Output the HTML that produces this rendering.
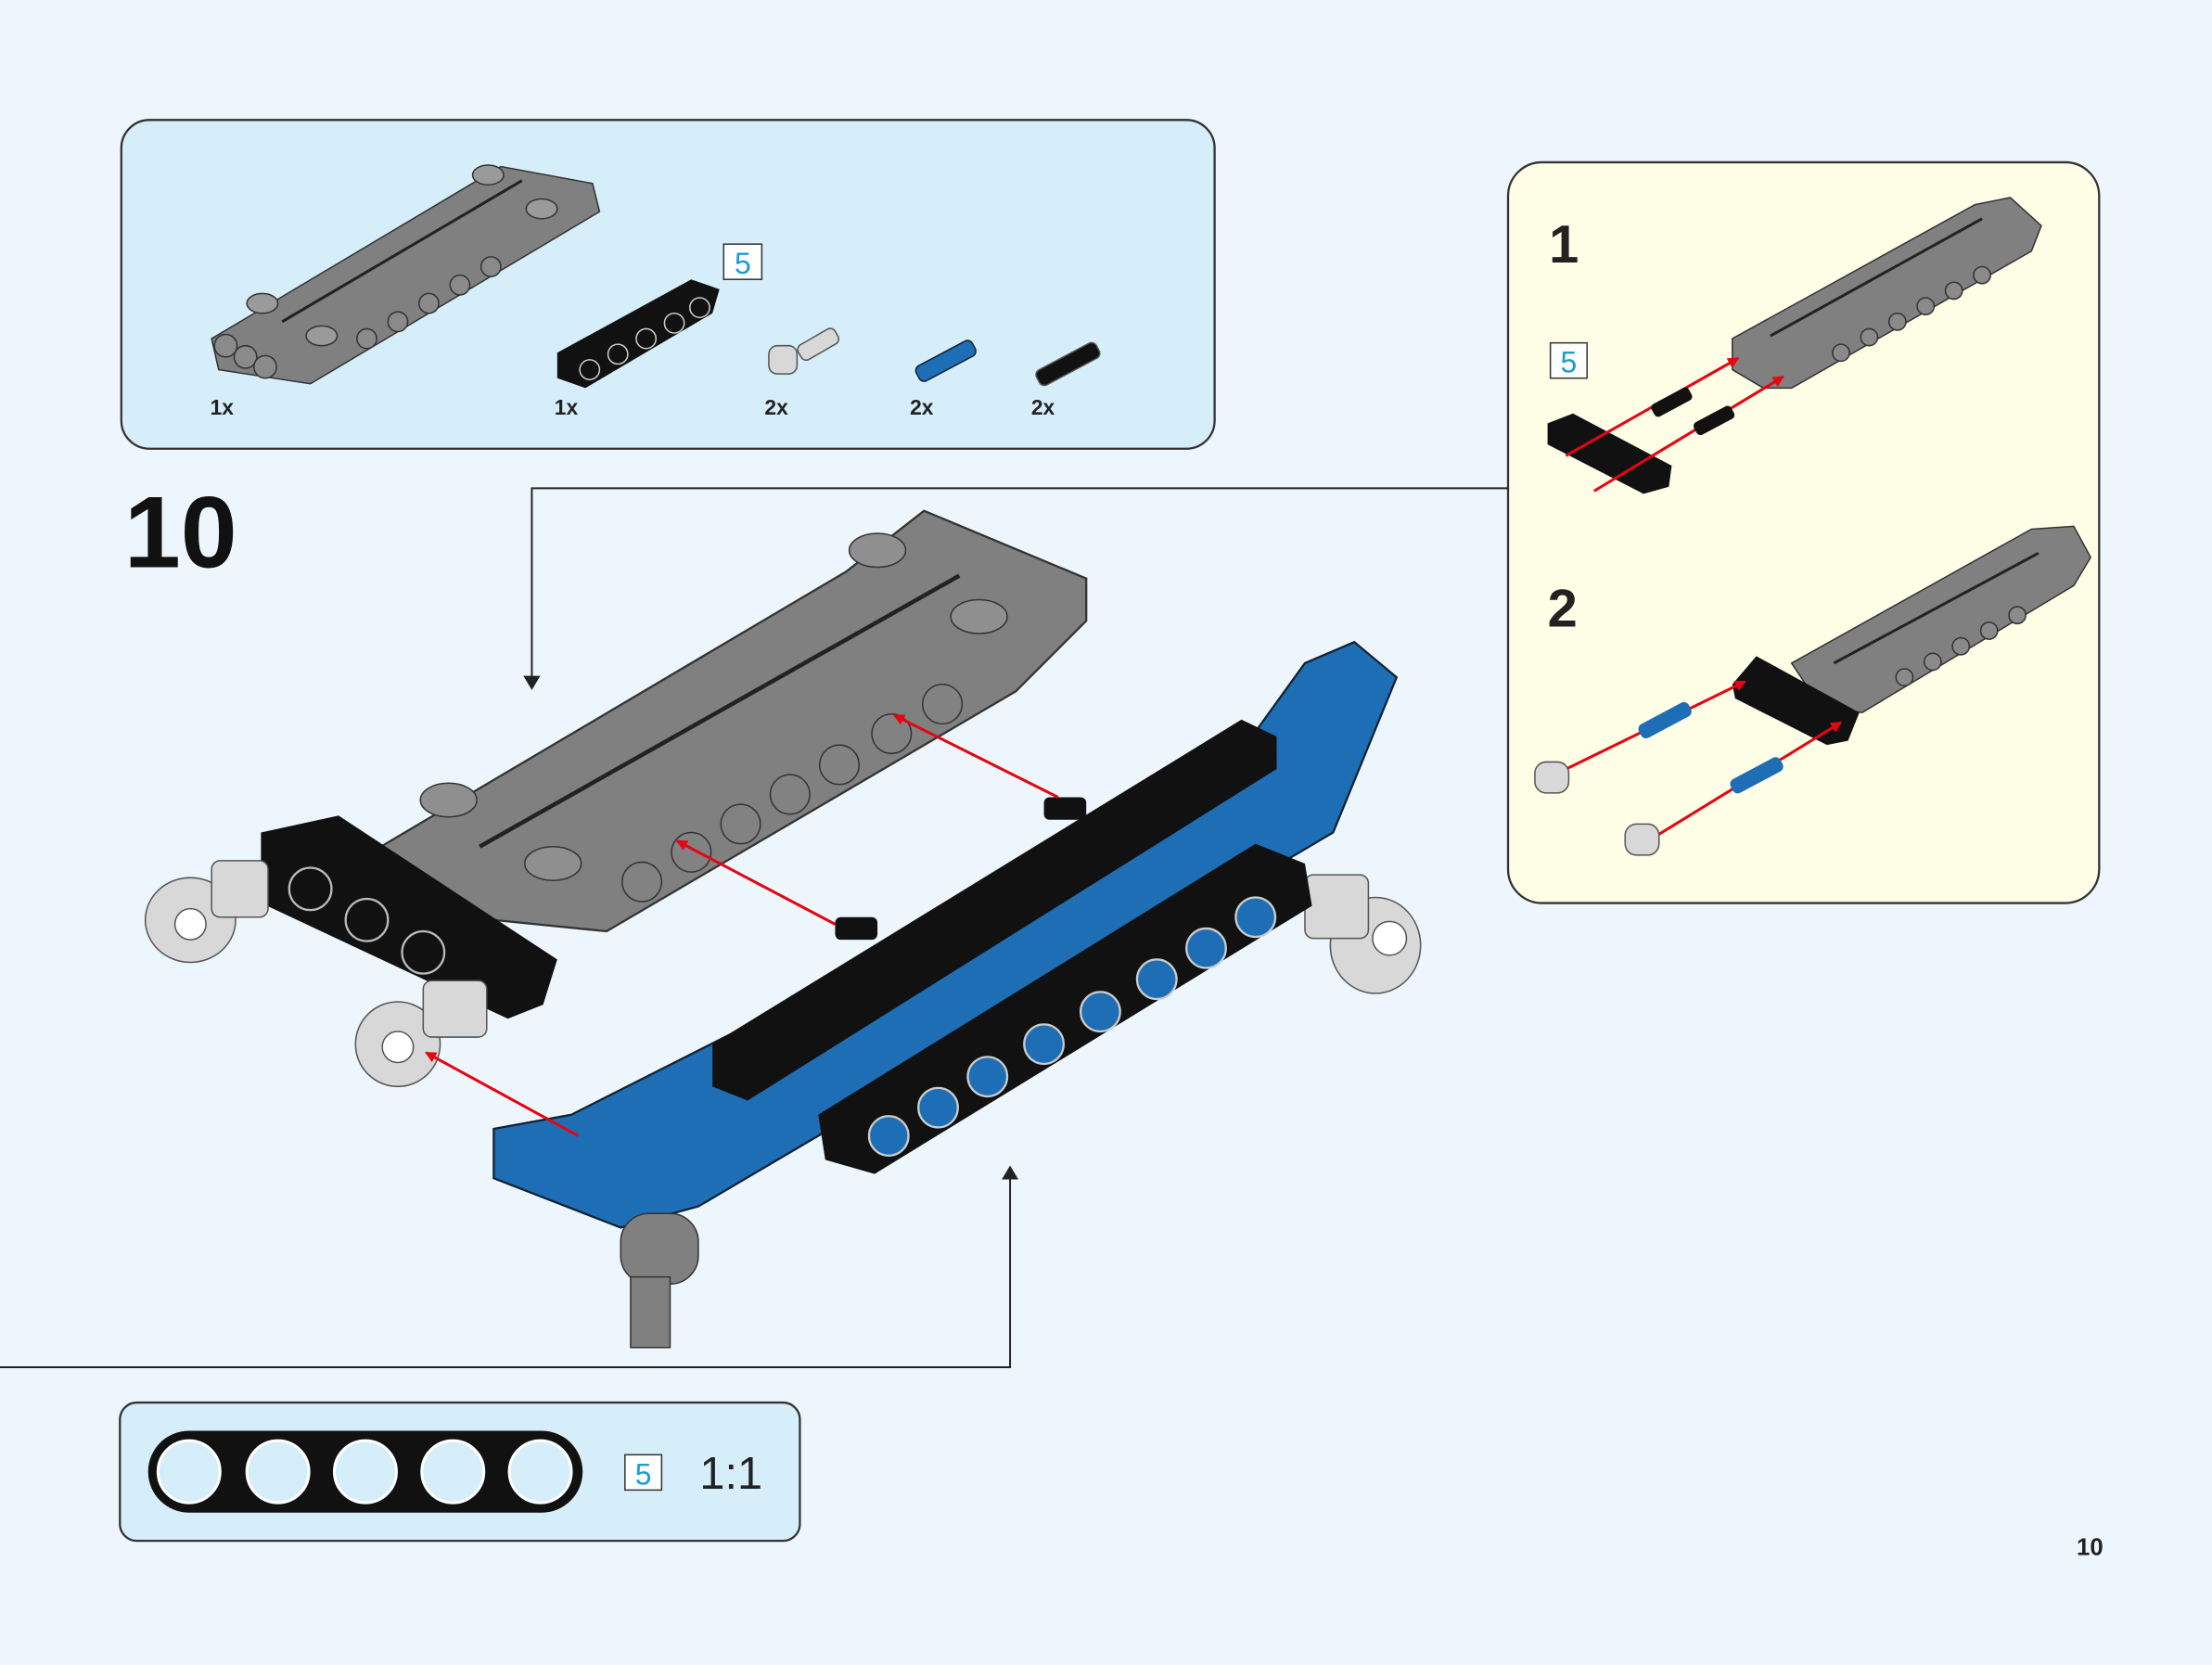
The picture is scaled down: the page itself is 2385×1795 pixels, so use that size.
<!DOCTYPE html>
<html><head><meta charset="utf-8"><style>html,body{margin:0;padding:0;background:#eef6fd}svg{display:block}</style></head><body>
<svg width="2385" height="1795" viewBox="0 0 1568 1180" preserveAspectRatio="none" xmlns="http://www.w3.org/2000/svg" font-family="Liberation Sans, sans-serif">
<defs>
<marker id="ar" markerWidth="8" markerHeight="8" refX="7" refY="4" orient="auto" markerUnits="userSpaceOnUse"><path d="M0,0 L8,4 L0,8z" fill="#e30613"/></marker>
<marker id="ak" markerWidth="10" markerHeight="18" refX="9" refY="9" orient="auto" markerUnits="userSpaceOnUse"><path d="M0,3 L10,9 L0,15z" fill="#222"/></marker>
</defs>
<rect width="1568" height="1180" fill="#eef6fd"/>
<!-- parts box -->
<rect x="86" y="85" width="775" height="233" rx="20" fill="#d5eefa" stroke="#333" stroke-width="1.5"/>
<polygon points="150,240 355,118 420,130 425,150 220,272 155,262" fill="#808080" stroke="#333"/>
<line x1="200" y1="228" x2="370" y2="128" stroke="#222" stroke-width="2"/>
<g fill="#9a9a9a" stroke="#333"><ellipse cx="186" cy="215" rx="11" ry="7"/><ellipse cx="228" cy="238" rx="11" ry="7"/><ellipse cx="346" cy="124" rx="11" ry="7"/><ellipse cx="384" cy="148" rx="11" ry="7"/></g>
<g fill="#8a8a8a" stroke="#333"><circle cx="160" cy="245" r="8"/><circle cx="174" cy="253" r="8"/><circle cx="188" cy="260" r="8"/><circle cx="260" cy="240" r="7"/><circle cx="282" cy="228" r="7"/><circle cx="304" cy="215" r="7"/><circle cx="326" cy="202" r="7"/><circle cx="348" cy="189" r="7"/></g>
<polygon points="395,250 490,198 510,205 505,222 415,275 395,268" fill="#111"/>
<g fill="none" stroke="#ccc"><circle cx="418" cy="262" r="7"/><circle cx="438" cy="251" r="7"/><circle cx="458" cy="240" r="7"/><circle cx="478" cy="229" r="7"/><circle cx="496" cy="218" r="7"/></g>
<rect x="513" y="173" width="27" height="25" fill="#fff" stroke="#333"/><text x="526.5" y="194" font-size="21" fill="#1a9ad9" text-anchor="middle">5</text>
<g fill="#d8d8d8" stroke="#555"><rect x="545" y="245" width="20" height="20" rx="6"/><rect x="565" y="238" width="30" height="12" rx="4" transform="rotate(-30 580 244)"/></g>
<rect x="648" y="250" width="45" height="12" rx="4" fill="#1e6eb5" stroke="#123" transform="rotate(-28 670 256)"/>
<rect x="733" y="252" width="48" height="12" rx="4" fill="#111" stroke="#555" transform="rotate(-28 757 258)"/>
<g font-size="15" font-weight="bold" fill="#222"><text x="149" y="294">1x</text><text x="393" y="294">1x</text><text x="542" y="294">2x</text><text x="645" y="294">2x</text><text x="731" y="294">2x</text></g>
<text x="88" y="402" font-size="72" font-weight="bold" fill="#111">10</text>
<!-- callout -->
<rect x="1069" y="115" width="419" height="525" rx="24" fill="#fefde6" stroke="#333" stroke-width="1.5"/>
<polyline points="1069,346 377,346 377,488" fill="none" stroke="#222" stroke-width="1.3" marker-end="url(#ak)"/>
<polyline points="0,969 716,969 716,827" fill="none" stroke="#222" stroke-width="1.3" marker-end="url(#ak)"/>
<text x="1098" y="186" font-size="38" font-weight="bold" fill="#222">1</text>
<text x="1097" y="444" font-size="38" font-weight="bold" fill="#222">2</text>
<rect x="1099" y="243" width="26" height="25" fill="#fff" stroke="#333"/><text x="1112" y="264" font-size="21" fill="#1a9ad9" text-anchor="middle">5</text>
<polygon points="1228,240 1400,145 1425,140 1447,160 1440,178 1270,275 1250,275 1228,262" fill="#808080" stroke="#333"/>
<line x1="1255" y1="238" x2="1405" y2="155" stroke="#222" stroke-width="2"/>
<g fill="#8a8a8a" stroke="#333"><circle cx="1305" cy="250" r="6"/><circle cx="1325" cy="239" r="6"/><circle cx="1345" cy="228" r="6"/><circle cx="1365" cy="217" r="6"/><circle cx="1385" cy="206" r="6"/><circle cx="1405" cy="195" r="6"/></g>
<polygon points="1097,300 1115,293 1185,330 1183,345 1165,350 1097,315" fill="#111"/>
<line x1="1110" y1="323" x2="1232" y2="254" stroke="#e30613" stroke-width="2" marker-end="url(#ar)"/>
<line x1="1130" y1="348" x2="1264" y2="267" stroke="#e30613" stroke-width="2" marker-end="url(#ar)"/>
<rect x="1170" y="280" width="30" height="10" rx="3" fill="#111" transform="rotate(-28 1185 285)"/>
<rect x="1200" y="293" width="30" height="10" rx="3" fill="#111" transform="rotate(-28 1215 298)"/>
<polygon points="1270,470 1440,375 1470,373 1482,395 1470,415 1320,505 1290,500" fill="#808080" stroke="#333"/>
<line x1="1300" y1="470" x2="1445" y2="392" stroke="#222" stroke-width="2"/>
<g fill="#8a8a8a" stroke="#333"><circle cx="1350" cy="480" r="6"/><circle cx="1370" cy="469" r="6"/><circle cx="1390" cy="458" r="6"/><circle cx="1410" cy="447" r="6"/><circle cx="1430" cy="436" r="6"/></g>
<polygon points="1228,485 1245,465 1318,505 1310,525 1295,528 1230,495" fill="#111"/>
<line x1="1100" y1="550" x2="1237" y2="483" stroke="#e30613" stroke-width="2" marker-end="url(#ar)"/>
<line x1="1165" y1="598" x2="1305" y2="512" stroke="#e30613" stroke-width="2" marker-end="url(#ar)"/>
<rect x="1160" y="505" width="40" height="11" rx="4" fill="#1e6eb5" transform="rotate(-28 1180 510)"/>
<rect x="1225" y="544" width="40" height="11" rx="4" fill="#1e6eb5" transform="rotate(-28 1245 549)"/>
<g fill="#d8d8d8" stroke="#555"><rect x="1088" y="540" width="24" height="22" rx="8"/><rect x="1152" y="584" width="24" height="22" rx="8"/></g>
<!-- main assembly -->
<polygon points="270,600 600,405 655,362 770,410 770,440 720,490 430,660 330,650 290,640" fill="#808080" stroke="#333" stroke-width="1.5"/>
<line x1="340" y1="600" x2="680" y2="408" stroke="#222" stroke-width="3"/>
<g fill="#8f8f8f" stroke="#333"><ellipse cx="318" cy="567" rx="20" ry="12"/><ellipse cx="392" cy="612" rx="20" ry="12"/><ellipse cx="622" cy="390" rx="20" ry="12"/><ellipse cx="694" cy="437" rx="20" ry="12"/></g>
<g fill="#828282" stroke="#333"><circle cx="455" cy="625" r="14"/><circle cx="490" cy="604" r="14"/><circle cx="525" cy="584" r="14"/><circle cx="560" cy="563" r="14"/><circle cx="595" cy="542" r="14"/><circle cx="632" cy="520" r="14"/><circle cx="668" cy="499" r="14"/></g>
<polygon points="185,590 240,578 395,680 385,712 360,722 185,640" fill="#111"/>
<g fill="none" stroke="#bbb" stroke-width="1.5"><circle cx="220" cy="630" r="15"/><circle cx="260" cy="652" r="15"/><circle cx="300" cy="675" r="15"/></g>
<g fill="#d8d8d8" stroke="#555"><ellipse cx="135" cy="652" rx="32" ry="30"/><rect x="150" y="610" width="40" height="40" rx="6"/><ellipse cx="282" cy="740" rx="30" ry="30"/><rect x="300" y="695" width="45" height="40" rx="6"/><ellipse cx="975" cy="670" rx="32" ry="34"/><rect x="925" y="620" width="45" height="45" rx="6"/></g>
<g fill="#fff" stroke="#555"><circle cx="135" cy="655" r="11"/><circle cx="282" cy="742" r="11"/><circle cx="985" cy="665" r="12"/></g>
<polygon points="350,800 405,790 860,560 925,470 960,455 990,480 945,590 495,855 440,870 350,835" fill="#1e6eb5" stroke="#123" stroke-width="1.5"/>
<polygon points="505,740 880,510 905,522 905,545 530,780 505,770" fill="#111"/>
<polygon points="580,790 890,598 925,612 930,642 620,832 585,822" fill="#111"/>
<g fill="#1e6eb5" stroke="#ccc" stroke-width="1.5"><circle cx="630" cy="805" r="14"/><circle cx="665" cy="785" r="14"/><circle cx="700" cy="763" r="14"/><circle cx="740" cy="740" r="14"/><circle cx="780" cy="717" r="14"/><circle cx="820" cy="694" r="14"/><circle cx="855" cy="672" r="14"/><circle cx="890" cy="650" r="14"/></g>
<rect x="440" y="860" width="55" height="50" rx="20" fill="#808080" stroke="#333"/>
<rect x="447" y="905" width="28" height="50" fill="#808080" stroke="#333"/>
<rect x="740" y="565" width="30" height="16" rx="4" fill="#111"/>
<rect x="592" y="650" width="30" height="16" rx="4" fill="#111"/>
<line x1="750" y1="565" x2="634" y2="507" stroke="#e30613" stroke-width="2" marker-end="url(#ar)"/>
<line x1="592" y1="655" x2="480" y2="596" stroke="#e30613" stroke-width="2" marker-end="url(#ar)"/>
<line x1="410" y1="805" x2="302" y2="746" stroke="#e30613" stroke-width="2" marker-end="url(#ar)"/>
<!-- bottom box -->
<rect x="85" y="994" width="482" height="98" rx="12" fill="#d5eefa" stroke="#333" stroke-width="1.5"/>
<rect x="105" y="1014" width="308" height="58" rx="29" fill="#111"/>
<g fill="#d5eefa" stroke="#fff" stroke-width="2"><circle cx="134" cy="1043" r="22"/><circle cx="197" cy="1043" r="22"/><circle cx="259" cy="1043" r="22"/><circle cx="321" cy="1043" r="22"/><circle cx="383" cy="1043" r="22"/></g>
<rect x="443" y="1031" width="26" height="25" fill="#fff" stroke="#333"/><text x="456" y="1052" font-size="21" fill="#1a9ad9" text-anchor="middle">5</text>
<text x="496" y="1055" font-size="32" fill="#222">1:1</text>
<text x="1472" y="1102" font-size="17" font-weight="bold" fill="#222">10</text>
</svg>
</body></html>
